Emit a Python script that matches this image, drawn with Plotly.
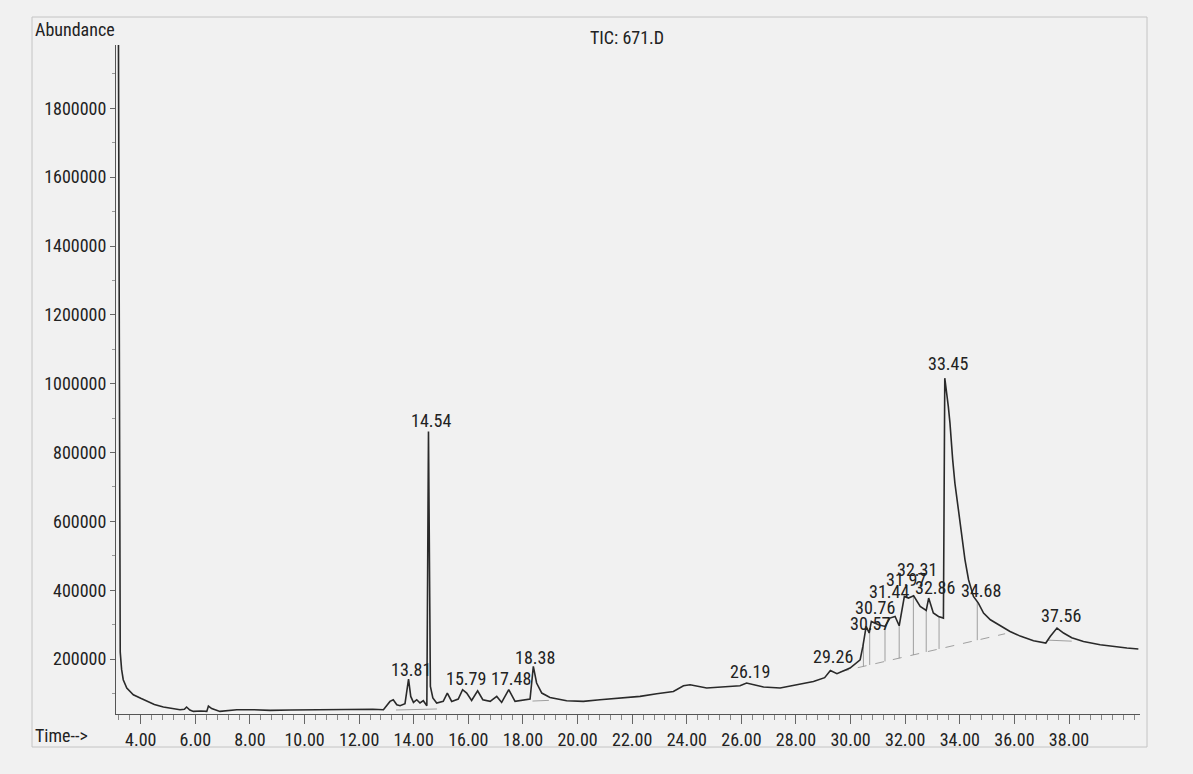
import numpy as np
import plotly.graph_objects as go

# ---------------- data ----------------
time_min = [3.17, 3.22, 3.25, 3.30, 3.36, 3.49, 3.73, 4.00, 4.22, 4.50, 4.83, 5.15, 5.44, 5.60, 5.68,
            5.80, 5.93, 6.20, 6.42, 6.48, 6.60, 6.90, 7.20, 7.52, 8.12, 8.74, 9.50, 10.30, 11.00,
            11.80, 12.50, 12.89, 13.13, 13.25, 13.38, 13.50, 13.68, 13.81, 13.89, 13.99, 14.11,
            14.23, 14.35, 14.48, 14.54, 14.61, 14.70, 14.84, 15.08, 15.23, 15.39, 15.63, 15.79,
            15.94, 16.12, 16.34, 16.53, 16.80, 17.04, 17.22, 17.48, 17.71, 18.01, 18.26, 18.38,
            18.50, 18.69, 18.99, 19.60, 20.21, 20.82, 21.50, 22.29, 22.90, 23.51, 23.88, 24.12,
            24.73, 25.34, 25.95, 26.19, 26.81, 27.42, 28.03, 28.64, 29.05, 29.26, 29.50, 29.98,
            30.35, 30.45, 30.57, 30.68, 30.76, 31.02, 31.26, 31.44, 31.63, 31.78, 31.97, 32.12,
            32.31, 32.55, 32.77, 32.86, 33.03, 33.22, 33.40, 33.45, 33.58, 33.64, 33.74, 33.82,
            33.95, 34.07, 34.19, 34.32, 34.50, 34.68, 34.87, 35.12, 35.48, 35.84, 36.21, 36.70,
            37.15, 37.31, 37.56, 37.80, 38.10, 38.53, 39.14, 39.75, 40.12, 40.54]
abundance = [2400000, 900000, 220000, 170000, 140000, 116000, 96400, 86000, 77000, 68000, 60700,
             56000, 52900, 54000, 60700, 52000, 47900, 49000, 47900, 63600, 56000, 47900, 49500,
             52900, 52900, 50800, 52000, 53000, 52500, 53500, 54000, 52900, 77000, 81900, 67400,
             64500, 70300, 142000, 91500, 74000, 81900, 72300, 79000, 64500, 861000, 120500,
             86800, 72300, 77000, 101300, 77000, 83900, 110900, 101300, 79900, 108000, 81900,
             77000, 91500, 74000, 110900, 77000, 79900, 83900, 178600, 130400, 101300, 88600,
             79000, 77000, 81900, 86000, 91500, 99300, 106000, 122500, 125500, 115900, 118800,
             122500, 130400, 118800, 115900, 125500, 135000, 146000, 167000, 157400, 174000,
             198000, 236700, 294800, 275600, 309300, 299700, 294800, 319000, 323800, 296800,
             381900, 377200, 383900, 352800, 341200, 377200, 333700, 323800, 319000, 1016000,
             933600, 885400, 778800, 711200, 633700, 556100, 488400, 430400, 381900, 362700,
             333700, 314200, 297000, 280200, 266700, 253200, 246500, 265700, 290000, 275600,
             262000, 251200, 241600, 234900, 232000, 229100]

peak_labels = ["13.81", "14.54", "15.79", "17.48", "18.38", "26.19", "29.26", "30.57", "30.76",
               "31.44", "31.97", "32.31", "32.86", "33.45", "34.68", "37.56"]

# integration baselines (start time, start value, end time, end value)
baseline_t0 = [13.35, 18.35, 29.62, 37.22]
baseline_v0 = [52000, 78000, 163200, 255000]
baseline_t1 = [14.85, 18.95, 35.66, 38.10]
baseline_v1 = [55000, 80000, 273600, 252000]
baseline_dash = ["solid", "solid", "dash", "solid"]

# drop lines down to the long baseline
drop_times = [30.47, 30.70, 31.26, 31.78, 32.30, 32.77, 33.24, 34.64]

x_tick_vals = [4, 6, 8, 10, 12, 14, 16, 18, 20, 22, 24, 26, 28, 30, 32, 34, 36, 38]
y_tick_vals = [200000, 400000, 600000, 800000, 1000000, 1200000, 1400000, 1600000, 1800000]

# label placement tweaks (pixels)
label_dy = [10, 11, 11, 11, 9, 12, 14, 3, 14, 27, 17, 26, 11, 15, 13, 13]
label_dx = [2, 3, 3, 2, 2, 3, 3, 4, 4, -1, 2, 3, 6, 3, 3, 4]

# ---------------- figure ----------------
FONT = "Liberation Sans Narrow, Arial Narrow, Roboto Condensed, Liberation Sans, Arial, sans-serif"
INK = "#222222"
BG = "#f1f1f1"

fig = go.Figure()

# baseline segments
for t0, v0, t1, v1, d in zip(baseline_t0, baseline_v0, baseline_t1, baseline_v1, baseline_dash):
    fig.add_trace(go.Scatter(x=[t0, t1], y=[v0, v1], mode="lines",
                             line=dict(color="#8a8a8a", width=0.8, dash=d),
                             hoverinfo="skip", showlegend=False))

# drop lines
long_idx = 2
dx, dy = [], []
for td in drop_times:
    top = float(np.interp(td, time_min, abundance))
    frac = (td - baseline_t0[long_idx]) / (baseline_t1[long_idx] - baseline_t0[long_idx])
    bot = baseline_v0[long_idx] + frac * (baseline_v1[long_idx] - baseline_v0[long_idx])
    dx += [td, td, None]
    dy += [top, bot, None]
fig.add_trace(go.Scatter(x=dx, y=dy, mode="lines", line=dict(color="#8a8a8a", width=0.8),
                         hoverinfo="skip", showlegend=False))

# chromatogram
fig.add_trace(go.Scatter(x=time_min, y=abundance, mode="lines",
                         line=dict(color="#2a2a2a", width=1.6),
                         hoverinfo="skip", showlegend=False))

# peak labels
for lab, ddy, ddx in zip(peak_labels, label_dy, label_dx):
    t = float(lab)
    v = float(np.interp(t, time_min, abundance))
    fig.add_annotation(x=t, y=v, text=lab, showarrow=False, xanchor="center", yanchor="middle",
                       xshift=ddx, yshift=ddy, font=dict(family=FONT, size=18, color=INK))

L, R, T, B = 116, 1140, 45, 714
W, H = 1193, 774
pw, ph = R - L, B - T


def xp(px):
    return (px - L) / pw


def yp(py):
    return (B - py) / ph


# free text
fig.add_annotation(xref="paper", yref="paper", x=xp(33), y=yp(30), text="Abundance",
                   showarrow=False, xanchor="left", yanchor="middle",
                   font=dict(family=FONT, size=18, color=INK))
fig.add_annotation(xref="paper", yref="paper", x=xp(627), y=yp(37), text="TIC: 671.D",
                   showarrow=False, xanchor="center", yanchor="middle",
                   font=dict(family=FONT, size=18, color=INK))
fig.add_annotation(xref="paper", yref="paper", x=xp(33), y=yp(735), text="Time-->",
                   showarrow=False, xanchor="left", yanchor="middle",
                   font=dict(family=FONT, size=18, color=INK))

# outer frame
frame = dict(color="#c4c4c4", width=1)
fig.add_shape(type="line", xref="paper", yref="paper", x0=xp(32), x1=xp(1147), y0=yp(17), y1=yp(17), line=frame)
fig.add_shape(type="line", xref="paper", yref="paper", x0=xp(32), x1=xp(1147), y0=yp(747), y1=yp(747), line=frame)
fig.add_shape(type="line", xref="paper", yref="paper", x0=xp(32), x1=xp(32), y0=yp(17), y1=yp(747), line=frame)
fig.add_shape(type="line", xref="paper", yref="paper", x0=xp(1147), x1=xp(1147), y0=yp(17), y1=yp(747), line=frame)

fig.update_layout(
    width=W, height=H,
    margin=dict(l=L, r=W - R, t=T, b=H - B, autoexpand=False),
    paper_bgcolor=BG, plot_bgcolor=BG,
    font=dict(family=FONT, size=18, color=INK),
    showlegend=False,
    hovermode=False,
)
fig.update_xaxes(range=[3.095, 40.6], showgrid=False, zeroline=False,
                 showline=True, linecolor="#555555", linewidth=1,
                 tickmode="array", tickvals=x_tick_vals,
                 ticktext=[f"{v:.2f}" for v in x_tick_vals],
                 ticks="outside", ticklen=9, tickcolor="#666666", tickwidth=1,
                 minor=dict(tick0=0, dtick=0.4, ticks="outside", ticklen=5, tickcolor="#888888"),
                 tickfont=dict(family=FONT, size=18, color=INK))
fig.update_yaxes(range=[40400, 1984000], showgrid=False, zeroline=False,
                 showline=True, linecolor="#555555", linewidth=1,
                 tickmode="array", tickvals=y_tick_vals,
                 ticktext=[str(v) for v in y_tick_vals],
                 ticks="outside", ticklen=5, tickcolor="#666666",
                 minor=dict(tick0=0, dtick=100000, ticks="outside", ticklen=3, tickcolor="#999999"),
                 tickfont=dict(family=FONT, size=18, color=INK))

fig.write_html(
    "out.html",
    config={"displayModeBar": False},
    post_script="document.body.style.margin='0';document.body.style.overflow='hidden';"
                "document.body.style.background='" + BG + "';",
)
